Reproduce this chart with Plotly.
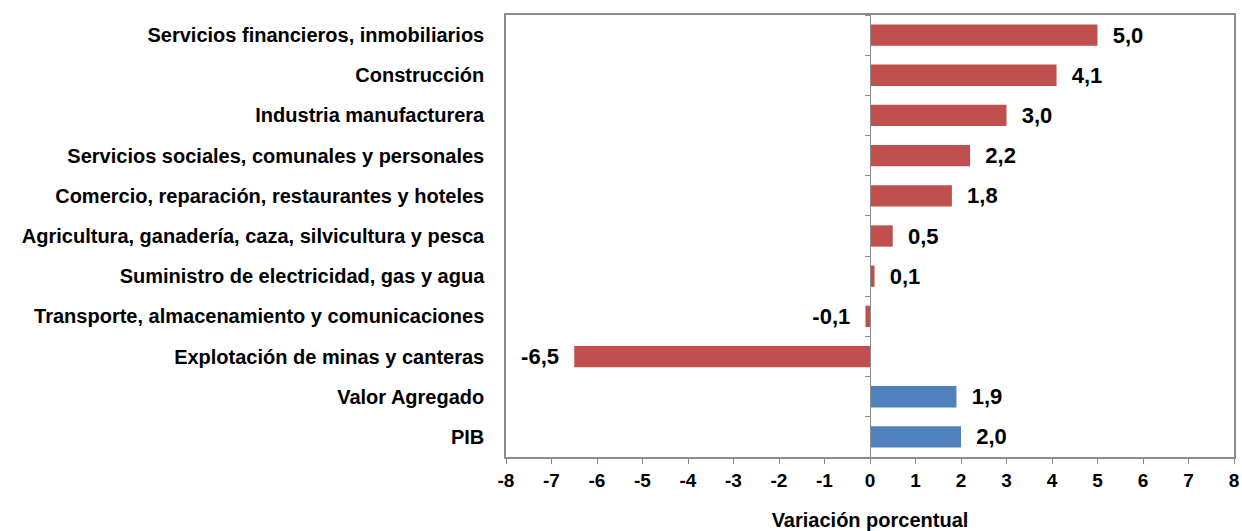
import plotly.graph_objects as go

categories = [
    "Servicios financieros, inmobiliarios",
    "Construcción",
    "Industria manufacturera",
    "Servicios sociales, comunales y personales",
    "Comercio, reparación, restaurantes y hoteles",
    "Agricultura, ganadería, caza, silvicultura y pesca",
    "Suministro de electricidad, gas y agua",
    "Transporte, almacenamiento y comunicaciones",
    "Explotación de minas y canteras",
    "Valor Agregado",
    "PIB",
]
sector_names = categories[:9]
sector_values = [5.0, 4.1, 3.0, 2.2, 1.8, 0.5, 0.1, -0.1, -6.5]
aggregate_names = categories[9:]
aggregate_values = [1.9, 2.0]
x_ticks = list(range(-8, 9))

RED = "#C0504D"
BLUE = "#4F81BD"
AXIS = "#8C8C8C"
FONT = "Liberation Sans"


def fmt(v):
    s = f"{v:.1f}".replace(".", ",")
    return f"  {s}" if v >= 0 else f"{s}  "


fig = go.Figure()
for names, vals, col in [(sector_names, sector_values, RED),
                         (aggregate_names, aggregate_values, BLUE)]:
    fig.add_trace(go.Bar(
        y=names, x=vals, orientation="h", marker=dict(color=col, line=dict(width=0)),
        width=0.53, text=[fmt(v) for v in vals], textposition="outside",
        constraintext="none",
        textfont=dict(family=FONT, size=22, color="black", weight="bold"),
        cliponaxis=False, showlegend=False, hoverinfo="skip",
    ))

# invisible trace to carry the zero-positioned category axis (tick marks at boundaries)
fig.add_trace(go.Scatter(y=categories, x=[0] * len(categories), yaxis="y2",
                         mode="markers", marker=dict(opacity=0, size=1), showlegend=False,
                         hoverinfo="skip"))

n = len(categories)
fig.update_layout(
    width=1242, height=531,
    margin=dict(l=506, r=8, t=15, b=74, autoexpand=False),
    paper_bgcolor="white", plot_bgcolor="white",
    barmode="relative",
    xaxis=dict(
        range=[-8, 8], tickvals=x_ticks, ticktext=[str(t) for t in x_ticks],
        showgrid=False, zeroline=False, automargin=False,
        showline=True, linecolor=AXIS, linewidth=1.5, mirror=True,
        ticks="outside", ticklen=5, tickcolor=AXIS, tickwidth=1,
        tickfont=dict(family=FONT, size=19, color="black", weight="bold"),
        title=dict(text="Variación porcentual", standoff=24,
                   font=dict(family=FONT, size=20, color="black", weight="bold")),
    ),
    yaxis=dict(
        categoryorder="array", categoryarray=categories, range=[n - 0.5, -0.5],
        autorange=False,
        showgrid=False, zeroline=False, automargin=False,
        showline=True, linecolor=AXIS, linewidth=1.5, mirror=True,
        ticks="", ticklabelstandoff=16,
        tickfont=dict(family=FONT, size=20, color="black", weight="bold"),
    ),
    yaxis2=dict(
        overlaying="y", matches="y", anchor="free", position=0.5, side="left",
        showline=True, linecolor=AXIS, linewidth=1, automargin=False,
        ticks="outside", tickson="boundaries", ticklen=5, tickcolor=AXIS,
        showticklabels=False, showgrid=False, zeroline=False,
    ),
)

fig.write_html("out.html", config={"displayModeBar": False},
               post_script="document.body.style.margin='0';document.body.style.overflow='hidden';")
